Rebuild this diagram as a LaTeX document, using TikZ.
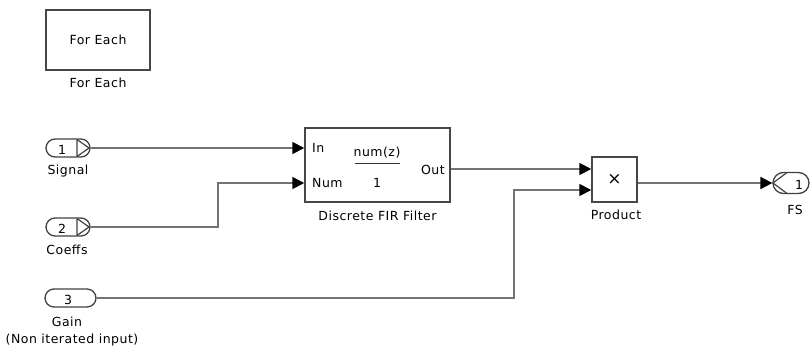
\documentclass[tikz,border=0pt]{standalone}
\usepackage{fontspec}
\setmainfont[LetterSpace=4]{DejaVu Sans}
\usetikzlibrary{arrows.meta,shapes.misc}
\begin{document}
\begin{tikzpicture}[x=1pt,y=-1pt,
  font=\fontsize{12.5}{14}\selectfont,
  blk/.style={draw=black!72, line width=1.5pt, fill=white, inner sep=0pt},
  port/.style={draw=black!75, line width=1.3pt, rounded rectangle, minimum height=18pt, inner sep=0pt},
  portline/.style={draw=black!75, line width=1.2pt},
  wire/.style={draw=black!55, line width=1.8pt},
  arr/.style={wire, -{Triangle[length=12pt,width=12pt,color=black]}},
  txt/.style={inner sep=1pt}]
\useasboundingbox (0,0) rectangle (810,353);

% For Each
\node[blk, minimum width=104pt, minimum height=60pt] (fe) at (98,40) {For Each};
\node[txt] (felab) at (98,83) {For Each};

% Signal inport
\node[port, minimum width=44pt] (sig) at (68,148) {};
\draw[portline] (77,139.5) -- (77,156.5) (77,139.5) -- (89,148) -- (77,156.5);
\node[txt] (sign) at (62,150) {1};
\node[txt] (siglab) at (68,171) {Signal};

% Coeffs inport
\node[port, minimum width=44pt] (coe) at (68,227) {};
\draw[portline] (77,218.5) -- (77,235.5) (77,218.5) -- (89,227) -- (77,235.5);
\node[txt] (coen) at (62,229) {2};
\node[txt] (coelab) at (67,250) {Coeffs};

% Gain inport
\node[port, minimum width=51pt] (gain) at (70.5,298) {};
\node[txt] (gainn) at (68,300) {3};
\node[txt] (gainlab) at (67,322) {Gain};
\node[txt] (gainlab2) at (72,340) {(Non iterated input)};

% Discrete FIR Filter
\node[blk, minimum width=145pt, minimum height=74pt] (fir) at (377.5,165) {};
\node[txt, anchor=west] (firin) at (311,148) {In};
\node[txt, anchor=west] (firnum) at (311,183) {Num};
\node[txt] (numz) at (377,153) {num(z)};
\draw[draw=black!80, line width=1.1pt] (355,163.5) -- (400,163.5);
\node[txt] (one) at (377,183) {1};
\node[txt, anchor=east] (out) at (446,170) {Out};
\node[txt] (firlab) at (377.5,216) {Discrete FIR Filter};

% Product
\node[blk, minimum width=45pt, minimum height=45pt, font=\fontsize{17}{17}\selectfont] (prod) at (614.5,179.5) {×};
\node[txt] (prodlab) at (616,215) {Product};

% FS outport
\begin{scope}
\clip (700,150) rectangle (810,230);
\node[port, minimum width=36pt, minimum height=21pt] (fs) at (791,183) {};
\draw[portline] (787,172.5) -- (773,183) -- (787,193.5);
\end{scope}
\node[txt] (fsn) at (799,185) {1};
\node[txt] (fslab) at (795,210) {FS};

% connectors
\draw[arr] (sig.east) -- (sig.east -| fir.west);
\draw[arr] (coe.east) -- (218,227) |- (firnum.west -| fir.west);
\draw[arr] (fir.east |- 0,169) -- (prod.west |- 0,169);
\draw[arr] (gain.east) -- (514,298) |- (prod.west |- 0,190);
\draw[arr] (prod.east |- 0,183) -- (fs.west);
\end{tikzpicture}
\end{document}
